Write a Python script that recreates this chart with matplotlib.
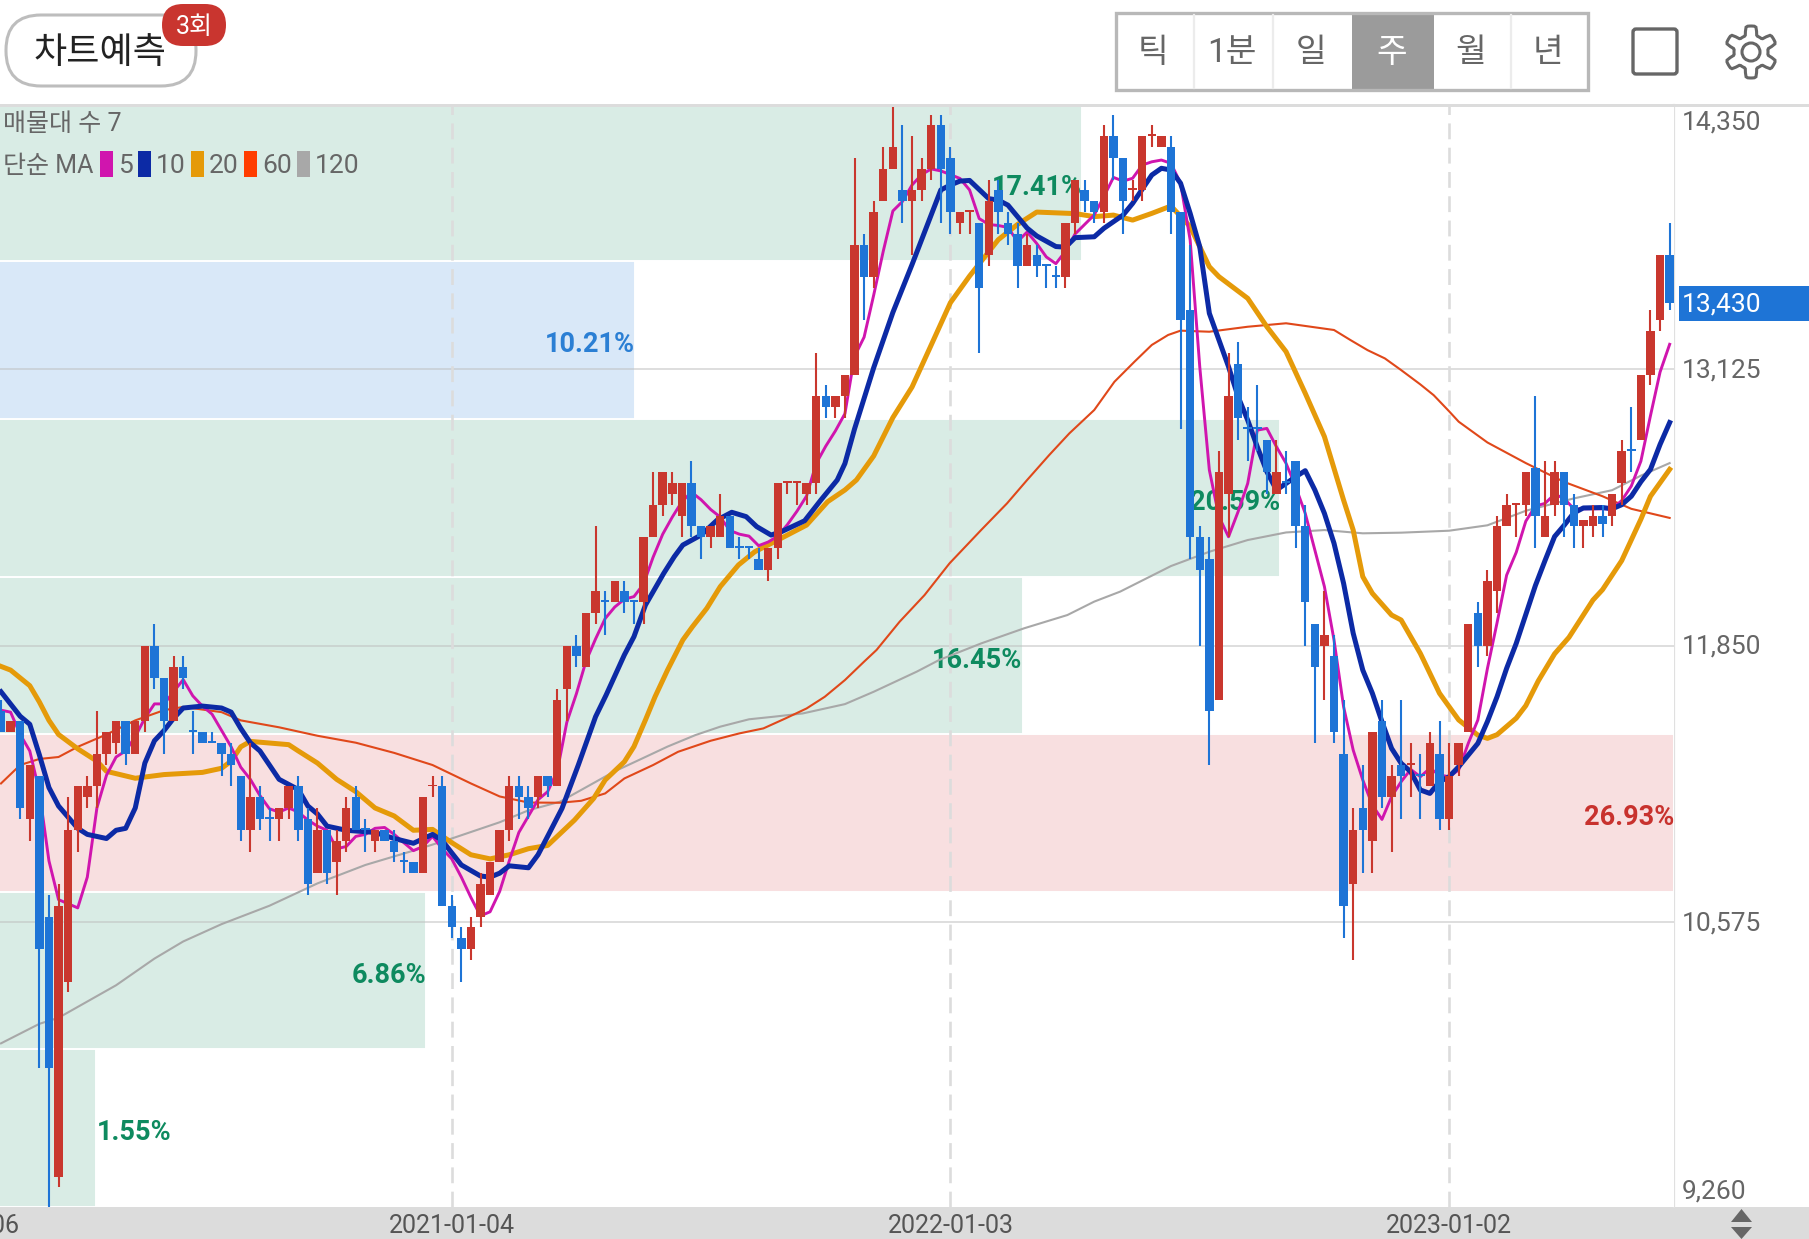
import numpy as np
import matplotlib
matplotlib.use('Agg')
import matplotlib.pyplot as plt
from matplotlib.patches import FancyBboxPatch, Polygon, Circle, Rectangle

plt.rcParams['font.family'] = ['Roboto', 'Noto Sans CJK KR']

W, H = 1809, 1239
PLOT_RIGHT, PLOT_TOP, PLOT_BOTTOM = 1674, 103.7, 1207
STEP, X0 = 9.59, 1.0

# weekly candles, index 47 = 2021-01-04
opens = [11550, 11450, 11500, 11050, 11250, 10600, 9400, 10300, 11000, 11150,
         11200, 11350, 11400, 11500, 11350, 11500, 11850, 11700, 11500, 11750,
         11450, 11450, 11400, 11400, 11350, 11250, 11000, 11150, 11050, 11050,
         11100, 11200, 11050, 10800, 11000, 10850, 10950, 11150, 11000, 10950,
         11000, 10950, 10850, 10850, 10800, 11200, 11200, 10650, 10500, 10450,
         10600, 10700, 10850, 11000, 11200, 11150, 11150, 11250, 11200, 11650,
         11850, 11750, 12000, 12050, 12050, 12100, 12050, 12050, 12350, 12500,
         12550, 12450, 12600, 12400, 12350, 12350, 12450, 12300, 12300, 12250,
         12200, 12300, 12600, 12600, 12550, 12600, 13000, 12950, 13000, 13100,
         13700, 13550, 13900, 14050, 13950, 13900, 13950, 14050, 14250, 14100,
         13800, 13850, 13800, 13650, 13950, 13800, 13750, 13600, 13650, 13600,
         13550, 13550, 13800, 13950, 13900, 13850, 14200, 14100, 13950, 13950,
         14200, 14150, 14150, 13850, 13400, 12350, 12250, 11600, 12550, 13150,
         12850, 12850, 12800, 12550, 12600, 12700, 12400, 11950, 11850, 11800,
         11350, 10750, 11100, 10950, 11500, 11150, 11300, 11300, 11250, 11200,
         11350, 11050, 11300, 11450, 12000, 11850, 12100, 12400, 12500, 12500,
         12670, 12350, 12500, 12650, 12500, 12400, 12400, 12450, 12450, 12600,
         12750, 12800, 13100, 13350, 13650]
highs = [11600, 11500, 11500, 11300, 11250, 10700, 10750, 11150, 11200, 11250,
         11550, 11450, 11500, 11500, 11500, 11850, 11950, 11700, 11800, 11800,
         11550, 11450, 11450, 11400, 11400, 11250, 11400, 11200, 11100, 11100,
         11200, 11250, 11100, 11100, 11000, 11000, 11150, 11200, 11050, 11000,
         11000, 11000, 10900, 10850, 11150, 11250, 11250, 10700, 10550, 10600,
         10800, 10850, 11000, 11250, 11250, 11200, 11250, 11250, 11650, 11850,
         11900, 12000, 12400, 12100, 12150, 12150, 12050, 12350, 12650, 12650,
         12650, 12600, 12700, 12400, 12400, 12550, 12450, 12350, 12300, 12300,
         12300, 12600, 12600, 12600, 12600, 13200, 13050, 13000, 13100, 14100,
         13750, 13900, 14150, 14350, 14250, 14200, 14100, 14300, 14300, 14150,
         13850, 13850, 13800, 14000, 14000, 13850, 13800, 13750, 13700, 13600,
         13600, 13800, 14000, 14000, 13900, 14250, 14300, 14100, 14000, 14200,
         14250, 14200, 14200, 13850, 13700, 12400, 12350, 12750, 13200, 13250,
         12950, 13050, 12800, 12800, 12750, 12700, 12500, 11950, 12100, 11900,
         11600, 11100, 11300, 11450, 11600, 11300, 11600, 11400, 11350, 11450,
         11500, 11400, 11400, 11950, 12050, 12200, 12450, 12550, 12500, 12650,
         13000, 12700, 12700, 12650, 12550, 12430, 12500, 12500, 12550, 12800,
         12950, 13100, 13400, 13650, 13800]
lows = [11450, 11450, 11050, 10950, 9900, 9260, 9350, 10250, 10900, 11100,
        11100, 11300, 11350, 11300, 11350, 11450, 11650, 11350, 11500, 11650,
        11350, 11400, 11400, 11250, 11200, 10950, 10900, 11000, 10950, 10950,
        11050, 10950, 10700, 10800, 10750, 10700, 10900, 11000, 10900, 10900,
        10950, 10850, 10800, 10800, 10800, 11150, 10650, 10500, 10300, 10400,
        10550, 10700, 10850, 10950, 11050, 11050, 11100, 11150, 11200, 11500,
        11750, 11750, 11950, 11900, 12050, 12000, 11950, 11950, 12350, 12450,
        12500, 12350, 12350, 12250, 12300, 12350, 12300, 12250, 12250, 12200,
        12150, 12250, 12550, 12500, 12500, 12550, 12900, 12900, 12900, 13100,
        13350, 13500, 13900, 14050, 13800, 13650, 13900, 14000, 13800, 13750,
        13750, 13750, 13200, 13600, 13750, 13700, 13500, 13600, 13550, 13500,
        13500, 13500, 13750, 13850, 13800, 13800, 14000, 13750, 13900, 13900,
        14150, 14150, 13750, 12850, 12250, 11850, 11300, 11600, 12350, 12800,
        12700, 12750, 12550, 12550, 12550, 12300, 11850, 11400, 11600, 11400,
        10500, 10400, 10800, 10800, 11100, 10900, 11050, 11150, 11050, 11200,
        11000, 11000, 11250, 11450, 11750, 11800, 12000, 12400, 12350, 12450,
        12300, 12350, 12450, 12350, 12300, 12300, 12350, 12350, 12400, 12500,
        12650, 12800, 13050, 13300, 13400]
closes = [11450, 11500, 11100, 11300, 10450, 9900, 10650, 11000, 11200, 11200,
          11350, 11450, 11500, 11350, 11500, 11850, 11700, 11500, 11750, 11700,
          11450, 11400, 11400, 11350, 11300, 11000, 11150, 11050, 11050, 11100,
          11200, 11000, 10750, 11000, 10800, 10950, 11100, 11000, 11000, 11000,
          10950, 10900, 10850, 10800, 11150, 11200, 10650, 10550, 10450, 10550,
          10750, 10850, 11000, 11200, 11150, 11100, 11250, 11200, 11600, 11850,
          11800, 12000, 12100, 12050, 12150, 12050, 12050, 12350, 12500, 12650,
          12600, 12600, 12400, 12350, 12400, 12450, 12300, 12300, 12300, 12200,
          12300, 12600, 12600, 12600, 12600, 13000, 12950, 13000, 13100, 13700,
          13550, 13850, 14050, 14150, 13900, 13950, 14050, 14250, 14050, 13850,
          13850, 13850, 13500, 13900, 13850, 13750, 13600, 13700, 13600, 13600,
          13550, 13800, 14000, 13900, 13850, 14200, 14100, 13900, 13950, 14200,
          14200, 14200, 13850, 13350, 12350, 12200, 11550, 12650, 13000, 12900,
          12850, 12850, 12650, 12650, 12600, 12400, 12050, 11750, 11900, 11450,
          10650, 11000, 11000, 11450, 11150, 11250, 11250, 11300, 11250, 11400,
          11050, 11250, 11400, 11950, 11850, 12150, 12400, 12500, 12500, 12650,
          12450, 12450, 12650, 12500, 12400, 12430, 12450, 12410, 12550, 12750,
          12750, 13100, 13300, 13650, 13430]
red_doji = [45, 82, 83, 101, 118, 120, 147, 158]

ma5_x = list(range(0, 175))
ma5 = [11552, 11543, 11440, 11364, 11176, 10857, 10678, 10659, 10640, 10782,
       11101, 11252, 11336, 11364, 11430, 11515, 11581, 11581, 11637, 11693,
       11618, 11571, 11534, 11458, 11383, 11289, 11233, 11158, 11097, 11082,
       11101, 11082, 11045, 11017, 10998, 10913, 10923, 10970, 10979, 11007,
       11011, 10979, 10941, 10904, 10923, 10970, 10913, 10866, 10782, 10688,
       10603, 10622, 10716, 10857, 10988, 11064, 11139, 11176, 11270, 11496,
       11628, 11778, 11881, 11975, 12028, 12064, 12076, 12134, 12258, 12364,
       12443, 12514, 12558, 12523, 12478, 12443, 12381, 12364, 12355, 12311,
       12328, 12355, 12408, 12470, 12540, 12690, 12770, 12840, 12920, 13184,
       13273, 13467, 13670, 13855, 13899, 13975, 14023, 14049, 14040, 14023,
       14005, 13952, 13820, 13793, 13788, 13779, 13714, 13758, 13705, 13643,
       13612, 13670, 13749, 13793, 13837, 13921, 14010, 13993, 14006, 14067,
       14082, 14090, 14075, 13983, 13721, 13137, 12660, 12445, 12352, 12468,
       12598, 12844, 12852, 12767, 12691, 12583, 12460, 12291, 12122, 11876,
       11568, 11368, 11230, 11114, 11048, 11153, 11222, 11279, 11245, 11284,
       11253, 11245, 11276, 11399, 11507, 11745, 11955, 12175, 12280, 12424,
       12494, 12506, 12548, 12529, 12481, 12481, 12481, 12481, 12481, 12519,
       12586, 12701, 12911, 13112, 13240]

ma10_x = [0, 2, 3, 4, 5, 6, 8, 9, 11, 12, 13, 14, 15, 16, 17, 18, 19, 21, 23, 24,
          25, 26, 27, 29, 31, 32, 33, 34, 36, 39, 41, 43, 45, 46, 47, 48, 50, 51, 52, 53,
          55, 56, 57, 58.5, 60.2, 62, 63.1, 65, 66, 67.2, 69.1, 70.2, 71.1, 73, 74.7, 76.2, 77.7, 78.8, 80.3, 81.4,
          83.8, 85.5, 87.2, 88, 89, 91, 93, 95, 97, 98, 99, 100, 101, 103, 104, 105, 106, 107, 108, 110,
          111, 112, 114, 115, 117, 118, 120, 121, 122, 123, 124, 125, 126, 127, 128, 129, 130, 131, 132, 133,
          134, 135, 136, 137, 138, 139, 140, 141, 142, 143, 144, 145, 146, 147, 148, 149, 150, 151, 152, 153,
          154, 155, 156, 157, 158, 159, 160, 161, 162, 163, 164, 165, 167, 168, 169, 170, 171, 172, 173, 174]
ma10 = [11637, 11524, 11487, 11346, 11195, 11110, 11007, 10979, 10960, 10998, 11007, 11101, 11308, 11411, 11458, 11515, 11562, 11571, 11562, 11543,
        11468, 11402, 11364, 11233, 11186, 11110, 11073, 11017, 10998, 10988, 10960, 10938, 10979, 10951, 10894, 10838, 10787, 10782, 10800, 10834,
        10825, 10885, 10970, 11099, 11299, 11522, 11622, 11807, 11891, 12037, 12183, 12260, 12314, 12360, 12430, 12465, 12445, 12399, 12360, 12376,
        12426, 12522, 12614, 12690, 12849, 13132, 13387, 13608, 13837, 13952, 13975, 13993, 13996, 13912, 13905, 13882, 13829, 13776, 13740, 13691,
        13688, 13732, 13736, 13775, 13836, 13890, 14021, 14052, 14044, 13983, 13844, 13690, 13383, 13260, 13137, 12998, 12890, 12767, 12652, 12568,
        12598, 12629, 12657, 12568, 12460, 12322, 12137, 11907, 11737, 11630, 11499, 11376, 11307, 11268, 11184, 11168, 11222, 11245, 11291, 11345,
        11399, 11500, 11614, 11745, 11860, 11993, 12127, 12242, 12353, 12405, 12462, 12485, 12487, 12481, 12500, 12539, 12606, 12663, 12778, 12879]

ma20_x = [0, 1, 3, 4, 5, 6, 8, 10, 11, 14, 17, 21, 23, 24, 25, 26, 30, 31, 33, 35,
          37, 39, 41, 43, 45, 47, 49, 51, 53, 55, 57, 59.8, 61.8, 63, 65, 66, 67.2, 68.2, 69.5, 71.1,
          72.1, 73.6, 75, 76.9, 78.6, 81, 84, 86.2, 88, 89.2, 91, 93, 95, 97, 99, 101, 104, 106, 108, 112,
          114, 116, 118, 120, 122, 124, 125, 126, 127, 130, 132, 134, 136, 138, 140, 141, 142, 143, 145, 146,
          148, 150, 152, 154, 155, 156, 158, 159, 160.3, 162, 163.5, 166, 167, 169, 171, 172, 174]
ma20 = [11754, 11737, 11665, 11590, 11505, 11440, 11374, 11317, 11270, 11238, 11255, 11265, 11284, 11317, 11383, 11408, 11393, 11364, 11308, 11233,
        11176, 11101, 11064, 10998, 11002, 10941, 10885, 10866, 10885, 10913, 10928, 11045, 11145, 11230, 11314, 11384, 11507, 11614, 11737, 11876,
        11937, 12022, 12122, 12222, 12283, 12337, 12406, 12514, 12568, 12614, 12725, 12902, 13043, 13237, 13432, 13555, 13723, 13793, 13850, 13843,
        13829, 13836, 13813, 13844, 13878, 13783, 13690, 13598, 13552, 13452, 13321, 13206, 13014, 12814, 12521, 12383, 12168, 12091, 11991, 11968,
        11814, 11630, 11507, 11437, 11422, 11439, 11515, 11573, 11687, 11812, 11888, 12060, 12108, 12242, 12433, 12539, 12663]

ma60_x = [0, 2, 4, 6, 8, 11, 14, 17, 19, 23, 25, 29, 33, 37, 41, 45, 49, 52, 55, 58.3,
          60.5, 63, 65, 68, 70.6, 74, 77, 79.5, 81.8, 84, 85.9, 88, 90, 91.3, 93.7, 96.3, 98.9, 102.2, 104.9, 107,
          109.3, 111.4, 114, 116.1, 118.2, 120, 121.7, 123, 126, 130, 134, 139, 140.7, 142.5, 144.3, 146, 148, 149.4, 151, 152,
          155, 159, 163, 167, 170, 174]
ma60 = [11214, 11299, 11327, 11336, 11383, 11440, 11505, 11552, 11567, 11543, 11505, 11473, 11434, 11402, 11355, 11299, 11214, 11154, 11126, 11125,
        11134, 11168, 11237, 11299, 11360, 11411, 11445, 11468, 11514, 11560, 11614, 11691, 11776, 11830, 11960, 12083, 12229, 12383, 12506, 12614,
        12729, 12829, 12937, 13067, 13160, 13237, 13283, 13303, 13298, 13321, 13337, 13306, 13260, 13213, 13175, 13121, 13055, 13005, 12931, 12883,
        12787, 12692, 12605, 12539, 12481, 12439]

ma120_x = [0, 4, 6, 9, 12, 16, 19, 23, 28, 33, 38, 43, 47, 52, 55, 58.3, 60.5, 63.9, 66.9, 69.5,
           72.4, 75, 78, 80.6, 83.6, 88, 91, 95.5, 97.8, 102.2, 106.7, 111.2, 114, 116.7, 122, 126, 130, 134, 138, 142,
           146, 151, 155, 159, 164, 168, 171, 174]
ma120 = [10015, 10105, 10133, 10208, 10283, 10406, 10485, 10565, 10650, 10753, 10838, 10904, 10960, 11035, 11090, 11130, 11184, 11268, 11330, 11384,
         11437, 11476, 11510, 11522, 11537, 11580, 11637, 11730, 11783, 11860, 11930, 11991, 12053, 12099, 12217, 12283, 12337, 12372, 12383, 12368,
         12371, 12380, 12405, 12472, 12529, 12567, 12634, 12692]

band_pct = [1.55, 6.86, 26.93, 16.45, 20.59, 10.21, 17.41]
band_kind = ['g', 'g', 'r', 'g', 'g', 'b', 'g']
band_labels = ['1.55%', '6.86%', '26.93%', '16.45%', '20.59%', '10.21%', '17.41%']

price_ticks = [14350, 13125, 11850, 10575, 9260]
price_labels = ['14,350', '13,125', '11,850', '10,575', '9,260']
date_idx = [-5, 47, 99, 151]
date_labels = ['2020-01-06', '2021-01-04', '2022-01-03', '2023-01-02']
last_price = 13430
periods = ['틱', '1분', '일', '주', '월', '년']
ma_periods = ['5', '10', '20', '60', '120']

RED = '#c9372e'
BLUE = '#1e74d6'
GRAY_TXT = '#666666'
BAND_FILL = {'g': '#d9ece5', 'r': '#f8dfe0', 'b': '#d9e8f8'}
BAND_TXT = {'g': '#0e8a5f', 'r': '#c8322e', 'b': '#2b7fd4'}
MA_COLORS = ['#d015ae', '#0c2aa5', '#e59a09', '#ff3d00', '#a8a8a8']

fig = plt.figure(figsize=(W / 100, H / 100), dpi=100, facecolor='white')

# page layer in pixel coordinates
ui = fig.add_axes([0, 0, 1, 1], zorder=1)
ui.set_xlim(0, W)
ui.set_ylim(H, 0)
ui.axis('off')

ax = fig.add_axes([0, (H - PLOT_BOTTOM) / H, PLOT_RIGHT / W, (PLOT_BOTTOM - PLOT_TOP) / H], zorder=2)
x_left, x_right = -X0 / STEP, (PLOT_RIGHT - X0) / STEP
ax.set_xlim(x_left, x_right)
ax.set_ylim(9260, 14350)
for s in ax.spines.values():
    s.set_visible(False)
ax.set_xticks([])
ax.set_yticks([])

# volume bands
edges = np.linspace(9260, 14350, len(band_pct) + 1)
span = x_right - x_left
for k in range(len(band_pct)):
    w = band_pct[k] / max(band_pct) * span
    ax.barh(edges[k], w + 1, height=edges[k + 1] - edges[k], left=x_left - 1, align='edge',
            color=BAND_FILL[band_kind[k]], edgecolor='white', linewidth=1.4, zorder=1)
    mid = (edges[k] + edges[k + 1]) / 2 - 22
    if k == 0:
        ax.text(x_left + w, mid, band_labels[k], ha='left', va='center',
                color=BAND_TXT[band_kind[k]], fontsize=19.5, fontweight='bold', zorder=3)
    else:
        ax.text(x_left + w, mid, band_labels[k], ha='right', va='center',
                color=BAND_TXT[band_kind[k]], fontsize=19.5, fontweight='bold', zorder=3)

# grid
for t in price_ticks[1:4]:
    ax.axhline(t, color='#bfbfbf', lw=1.2, alpha=0.6, zorder=2)
for d in date_idx[1:]:
    ax.axvline(d, color='#dcdcdc', lw=1.9, linestyle=(0, (6, 3.2)), zorder=2)

# moving averages, under the candles
ax.plot(ma120_x, ma120, color=MA_COLORS[4], lw=1.5, zorder=4)
ax.plot(ma60_x, ma60, color='#e0481a', lw=1.5, zorder=4)
ax.plot(ma20_x, ma20, color=MA_COLORS[2], lw=3.6, zorder=5, solid_joinstyle='round')
ax.plot(ma5_x, ma5, color=MA_COLORS[0], lw=2.1, zorder=6, solid_joinstyle='round')
ax.plot(ma10_x, ma10, color=MA_COLORS[1], lw=3.6, zorder=7, solid_joinstyle='round')

# candles
idx = np.arange(len(opens))
o, h, l, c = map(np.array, (opens, highs, lows, closes))
is_red = (c > o) | np.isin(idx, red_doji)
cols = [RED if r else BLUE for r in is_red]
ax.vlines(idx, l, h, colors=cols, lw=1.5, zorder=8)
bottoms = np.minimum(o, c)
heights = np.maximum(np.abs(c - o), 9)
ax.bar(idx, heights, bottom=bottoms, width=0.88, color=cols, linewidth=0, zorder=9)

# price labels on the right
offs = [-13.5, -1, -1, -1, 11.5]
for t, lab, off in zip(price_ticks, price_labels, offs):
    ax.annotate(lab, xy=(1, t), xycoords=ax.get_yaxis_transform(), xytext=(5.5, off),
                textcoords='offset points', ha='left', va='center', color=GRAY_TXT,
                fontsize=19, annotation_clip=False)
ax.annotate(f'{last_price:,}', xy=(1, last_price), xycoords=ax.get_yaxis_transform(), xytext=(5.5, -1),
            textcoords='offset points', ha='left', va='center', color='white', fontsize=19,
            annotation_clip=False, zorder=30)
ui.add_patch(Rectangle((1679, 286), W - 1679, 34.5, color=BLUE, lw=0))
ui.plot([1674, 1674], [105, 1207], color='#e0e0e0', lw=1.6)

# date strip
ui.add_patch(Rectangle((0, PLOT_BOTTOM), W, H - PLOT_BOTTOM, color='#dcdcdc', lw=0))
for d, lab in zip(date_idx, date_labels):
    dx = 2.5 if d < 0 else 0
    ax.annotate(lab, xy=(d, 0), xycoords=ax.get_xaxis_transform(), xytext=(dx, -14),
                textcoords='offset points', ha='center', va='center', color='#555555',
                fontsize=18, annotation_clip=False)
ui.add_patch(Polygon([(1731, 1222), (1752, 1222), (1741.5, 1209)], color='#666666', lw=0))
ui.add_patch(Polygon([(1731, 1227), (1752, 1227), (1741.5, 1239)], color='#666666', lw=0))

# header divider
ax.add_patch(Rectangle((0, 104), W, 3, color='#dcdcdc', lw=0, transform=ui.transData,
                       clip_on=False, zorder=20))

# legend inside the plot
px = ui.transData
ax.text(3, 124, '매물대 수 7', transform=px, ha='left', va='center', color=GRAY_TXT, fontsize=18, zorder=21)
ax.text(3, 166, '단순 MA', transform=px, ha='left', va='center', color=GRAY_TXT, fontsize=18, zorder=21)
sw_x = [100, 138, 191, 244, 297]
txt_x = [118, 156, 209, 262, 315]
for sx, tx, lab, col in zip(sw_x, txt_x, ma_periods, MA_COLORS):
    ax.add_patch(Rectangle((sx, 151), 13, 26, color=col, lw=0, transform=px, clip_on=False, zorder=21))
    ax.text(tx, 166, lab, transform=px, ha='left', va='center', color=GRAY_TXT, fontsize=19, zorder=21)

# predict pill + badge
ui.add_patch(FancyBboxPatch((6, 15), 190, 71, boxstyle='round,pad=0,rounding_size=35',
                            fc='white', ec='#bdbdbd', lw=2.2))
ui.text(100, 53, '차트예측', ha='center', va='center', fontsize=26, color='#222222')
ui.add_patch(FancyBboxPatch((162, 4), 64, 42, boxstyle='round,pad=0,rounding_size=21', fc='#c9352f', ec='none'))
ui.text(194, 27, '3회', ha='center', va='center', fontsize=18, color='white')

# period selector
seg = [1115, 1194, 1273, 1352, 1434, 1511, 1588]
ui.add_patch(Rectangle((1352, 12), 82, 78.5, color='#9b9b9b', lw=0, zorder=1))
ui.add_patch(Rectangle((1115.5, 13), 472, 77, fc='none', ec='#b8b8b8', lw=2.4, zorder=2))
for sx in [1194, 1273, 1511]:
    ui.plot([sx, sx], [15, 88], color='#ececec', lw=1.6)
for k, lab in enumerate(periods):
    ui.text((seg[k] + seg[k + 1]) / 2 - 1.5, 53, lab, ha='center', va='center', fontsize=24,
            color='white' if lab == '주' else GRAY_TXT, zorder=3)

# square + gear icons
ui.add_patch(FancyBboxPatch((1633, 29), 44, 45, boxstyle='round,pad=0,rounding_size=3', fc='white', ec='#666666', lw=2.4))
gx, gy = 1751, 52
ang = np.linspace(0, 2 * np.pi, 96, endpoint=False)
rad = 21.5 + 4.5 * np.clip(2.2 * np.cos(6 * ang), -1, 1)
ui.add_patch(Polygon(np.c_[gx + rad * np.sin(ang), gy + rad * np.cos(ang)], closed=True, fc='white', ec='#666666', lw=2.2))
ui.add_patch(Circle((gx, gy), 9, fc='white', ec='#666666', lw=2.2))

fig.savefig('out.png', dpi=100)
